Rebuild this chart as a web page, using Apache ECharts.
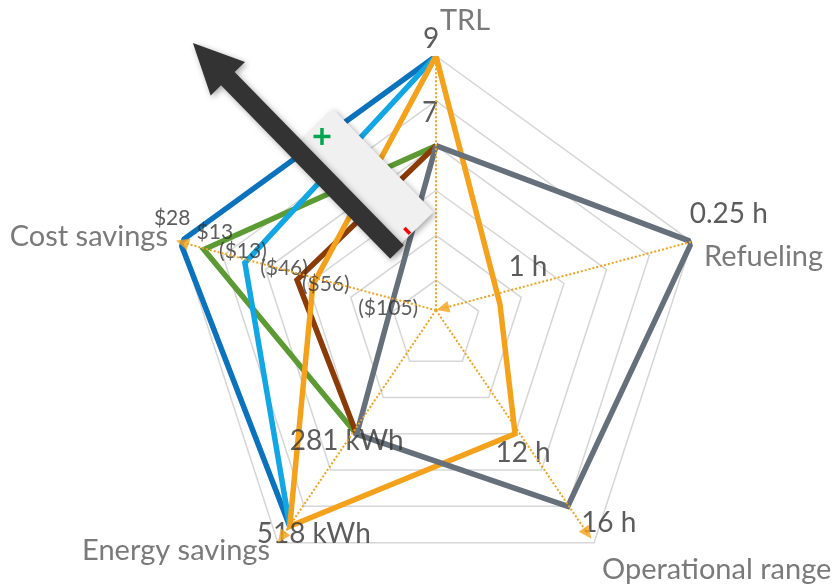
<!DOCTYPE html>
<html>
<head>
<meta charset="utf-8">
<script src="https://cdn.jsdelivr.net/npm/echarts@6/dist/echarts.min.js"></script>
<style>
  html, body { margin: 0; padding: 0; background: #ffffff; }
  #chart { width: 840px; height: 585px; }
</style>
</head>
<body>
<div id="chart"></div>
<script>
// Axes, clockwise from the top
const axisNames = ['TRL', 'Refueling', 'Operational range', 'Energy savings', 'Cost savings'];

// Values of the six options (null = not rated on that axis)
const trlLevel    = [9, 7, 9, 7, 9, 7];
const refuelHours = [null, null, null, null, 1, 0.25];
const rangeHours  = [null, null, null, null, 12, 16];
const energyKWh   = [518, 281, 518, 281, 518, 281];
const costUSD     = [28, 13, -13, -46, -56, -105];
const seriesColors = ['#0b72bd', '#5c9b33', '#12a6e4', '#8a3b06', '#f4a21c', '#66707a'];

// Axis spans mapped onto the six rings (refueling is plotted as a rate, 1/h)
const ringCount   = 6;
const trlSpan     = [3, 9];
const refuelSpan  = [0, 4];
const rangeSpan   = [6, 18];
const energySpan  = [0, 560];
const costSpan    = [-134, 28];
const spans = [trlSpan, refuelSpan, rangeSpan, energySpan, costSpan];
const axisAngles = [0, 72, 144, 216, 288];

const CENTER = [436, 325];
const RADIUS = 269;
const ORANGE = '#f4a21c';
const FONT = 'Lato, "Liberation Sans", sans-serif';

function plotted(axis, v) {
  if (v == null) return null;
  const x = axis === 1 ? 1 / v : v;
  const s = spans[axis];
  return ringCount * (x - s[0]) / (s[1] - s[0]);
}
function rawValue(i, axis) {
  return [trlLevel, refuelHours, rangeHours, energyKWh, costUSD][axis][i];
}
function polarPoints(i) {
  const pts = axisAngles.map((a, k) => {
    const r = plotted(k, rawValue(i, k));
    return r == null ? ['-', a] : [r, a];
  });
  pts.push([pts[0][0], 360]);
  return pts;
}
const formatters = [
  v => String(v),
  v => v + ' h',
  v => v + ' h',
  v => v + ' kWh',
  v => v < 0 ? '($' + (-v) + ')' : '$' + v
];

// Which values carry a label: [option, axis, dx, dy]
const labelPlacement = [
  [4, 0, -5, -17], [5, 0, -6, -33],
  [5, 1, 37, -28], [4, 1, 28, -37],
  [4, 2, 8, 19], [5, 2, 41, 17],
  [5, 3, -10, 7], [4, 3, 24, 8],
  [0, 4, -8, -24], [1, 4, 11, -17], [2, 4, -2, -12],
  [3, 4, -13, -12], [4, 4, 13, -1], [5, 4, -2, -2]
];

const lineSeries = seriesColors.map((c, i) => ({
  type: 'line',
  coordinateSystem: 'polar',
  data: polarPoints(i),
  symbol: 'none',
  showSymbol: false,
  connectNulls: false,
  silent: true,
  z: 2,
  lineStyle: { color: c, width: 5.5, join: 'miter', cap: 'butt' }
}));

// Dotted direction guides along each axis
const guideLines = [
  [[0.33, 0], [6.05, 0]],
  [[6.07, 72], [0.40, 22]],
  [[0.33, 0], [5.75, 144]],
  [[0.33, 0], [5.85, 216]],
  [[0.33, 0], [5.95, 288]]
].map(d => ({
  type: 'line',
  coordinateSystem: 'polar',
  data: d,
  symbol: 'none',
  silent: true,
  z: 4,
  lineStyle: { color: ORANGE, width: 2, type: [2, 2] }
}));

const guideHeads = {
  type: 'scatter',
  coordinateSystem: 'polar',
  symbol: 'triangle',
  symbolSize: [12, 13],
  silent: true,
  z: 5,
  itemStyle: { color: ORANGE },
  data: [
    { value: [6.05, 0], symbolRotate: 0 },
    { value: [0.40, 22], symbolRotate: 105 },
    { value: [5.75, 144], symbolRotate: -144 },
    { value: [5.85, 216], symbolRotate: 144 },
    { value: [5.95, 288], symbolRotate: 72 }
  ]
};

const valueLabels = {
  type: 'scatter',
  coordinateSystem: 'polar',
  symbol: 'circle',
  symbolSize: 1,
  silent: true,
  z: 3,
  itemStyle: { color: 'rgba(0,0,0,0)' },
  data: labelPlacement.map(([i, k, dx, dy]) => {
    const v = rawValue(i, k);
    return {
      name: formatters[k](v),
      value: [plotted(k, v), axisAngles[k]],
      label: { offset: [dx, dy], fontSize: k === 4 ? 21 : 28 }
    };
  }),
  label: {
    show: true,
    position: 'inside',
    align: 'center',
    verticalAlign: 'middle',
    formatter: '{b}',
    color: '#333333',
    fontFamily: FONT
  }
};

// Axis titles
function axisTitle(text, x, y, align) {
  return {
    type: 'text', x: x, y: y, z: 10, silent: true,
    style: { text: text, fill: '#7a7a7a', fontSize: 29, fontFamily: FONT, align: align, verticalAlign: 'middle' }
  };
}

// "better" arrow with its +/- scale box
const O = [397, 252], U = [-0.699, -0.716], V = [0.716, -0.699];
const P = (u, v) => [O[0] + u * U[0] + v * V[0], O[1] + u * U[1] + v * V[1]];
const shadow = { shadowBlur: 6, shadowColor: 'rgba(0,0,0,0.35)', shadowOffsetX: 2, shadowOffsetY: 2 };
const plusC = P(135, 27);
const minusA = P(12, 22), minusB = P(4, 22);

const graphics = [
  axisTitle(axisNames[0], 465, 21, 'center'),
  axisTitle(axisNames[1], 704, 257, 'left'),
  axisTitle(axisNames[2], 602, 570, 'left'),
  axisTitle(axisNames[3], 270, 551, 'right'),
  axisTitle(axisNames[4], 168, 237, 'right'),
  {
    type: 'polygon', z: 20, silent: true,
    shape: { points: [P(3, 0), P(147, 0), P(147, 54), P(3, 54)] },
    style: Object.assign({ fill: '#f0f0f0' }, shadow)
  },
  {
    type: 'line', z: 21, silent: true,
    shape: { x1: plusC[0] - 8.5, y1: plusC[1], x2: plusC[0] + 8.5, y2: plusC[1] },
    style: { stroke: '#00a650', lineWidth: 3.5 }
  },
  {
    type: 'line', z: 21, silent: true,
    shape: { x1: plusC[0], y1: plusC[1] - 8.5, x2: plusC[0], y2: plusC[1] + 8.5 },
    style: { stroke: '#00a650', lineWidth: 3.5 }
  },
  {
    type: 'line', z: 21, silent: true,
    shape: { x1: minusA[0], y1: minusA[1], x2: minusB[0], y2: minusB[1] },
    style: { stroke: '#ff0000', lineWidth: 3.5 }
  },
  {
    type: 'polygon', z: 22, silent: true,
    shape: { points: [P(0, -9.5), P(242, -9.5), P(242, -24), P(292, 0), P(242, 24), P(242, 9.5), P(0, 9.5)] },
    style: Object.assign({ fill: '#333333' }, shadow)
  }
];

const chart = echarts.init(document.getElementById('chart'), null, { renderer: 'canvas' });
chart.setOption({
  animation: false,
  backgroundColor: '#ffffff',
  textStyle: { fontFamily: FONT },
  radar: {
    center: CENTER,
    radius: RADIUS,
    startAngle: 90,
    splitNumber: ringCount,
    shape: 'polygon',
    indicator: axisNames.map(n => ({ name: n, min: 0, max: ringCount })),
    axisName: { show: false },
    axisLine: { show: false },
    axisTick: { show: false },
    axisLabel: { show: false },
    splitArea: { show: false },
    splitLine: { lineStyle: { color: '#d6d6d6', width: 1.5 } }
  },
  polar: { center: CENTER, radius: RADIUS },
  angleAxis: { type: 'value', min: 0, max: 360, startAngle: 90, clockwise: true, show: false },
  radiusAxis: { type: 'value', min: 0, max: ringCount, show: false },
  series: lineSeries.concat(guideLines, [guideHeads, valueLabels]),
  graphic: graphics
});
</script>
</body>
</html>
